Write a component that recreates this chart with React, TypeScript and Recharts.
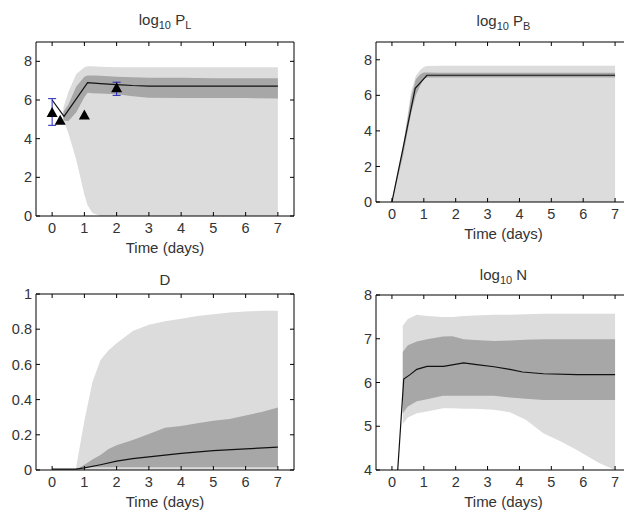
import React from "react";
import { Area, ComposedChart, ErrorBar, Line, Scatter, XAxis, YAxis } from "recharts";

const xTicks = [0, 1, 2, 3, 4, 5, 6, 7];
const xDomain = [-0.5, 7.5];

// log10 P_L
const plBandT = [0.35, 0.5, 0.75, 1.0, 1.1, 1.25, 1.5, 2, 2.5, 3, 4, 5, 6, 7];
const plLightLo = [4.95, 4.3, 2.9, 1.1, 0.55, 0.15, 0, 0, 0, 0, 0, 0, 0, 0];
const plLightHi = [5.6, 6.4, 7.35, 7.7, 7.75, 7.75, 7.72, 7.7, 7.7, 7.7, 7.7, 7.7, 7.7, 7.7];
const plDarkLo = [4.95, 4.9, 5.37, 6.14, 6.38, 6.35, 6.33, 6.3, 6.2, 6.12, 6.1, 6.1, 6.1, 6.08];
const plDarkHi = [5.4, 5.75, 6.7, 7.2, 7.27, 7.27, 7.25, 7.2, 7.18, 7.15, 7.15, 7.13, 7.13, 7.12];
const plMedT = [0, 0.37, 1.1, 1.5, 2, 2.5, 3, 4, 5, 6, 7];
const plMed = [6.0, 5.15, 6.9, 6.85, 6.8, 6.75, 6.72, 6.72, 6.72, 6.72, 6.72];
const plObsT = [0, 0.25, 1, 2];
const plObs = [5.35, 4.95, 5.22, 6.63];
const plObsLo = [4.69, null, null, 6.24];
const plObsHi = [6.07, null, null, 6.92];

// log10 P_B
const pbBandT = [0, 0.35, 0.6, 0.75, 0.9, 1.0, 1.1, 1.5, 2, 3, 4, 5, 6, 7];
const pbLightLo = [0, 0, 0, 0, 0, 0, 0, 0, 0, 0, 0, 0, 0, 0];
const pbLightHi = [0.2, 3.2, 6.2, 7.1, 7.45, 7.6, 7.65, 7.66, 7.66, 7.66, 7.66, 7.66, 7.66, 7.66];
const pbDarkLo = [0, 2.6, 5.0, 6.0, 6.6, 6.95, 7.0, 7.0, 7.0, 7.0, 7.0, 7.0, 7.0, 7.0];
const pbDarkHi = [0.1, 3.1, 5.9, 6.9, 7.2, 7.28, 7.28, 7.27, 7.27, 7.27, 7.27, 7.27, 7.27, 7.27];
const pbMedT = [0, 0.35, 0.73, 1.1, 7];
const pbMed = [0, 3.05, 6.39, 7.13, 7.13];

// D
const dBandT = [0.73, 1.0, 1.25, 1.5, 1.75, 2, 2.5, 3, 3.5, 4, 4.5, 5, 5.5, 6, 6.5, 7];
const dLightLo = [0, 0, 0, 0, 0, 0, 0, 0, 0, 0, 0, 0, 0, 0, 0, 0];
const dLightHi = [0, 0.28, 0.5, 0.625, 0.68, 0.72, 0.79, 0.825, 0.845, 0.86, 0.875, 0.885, 0.895, 0.9, 0.905, 0.905];
const dDarkLo = [0, 0.015, 0.015, 0.015, 0.015, 0.015, 0.015, 0.015, 0.015, 0.015, 0.015, 0.015, 0.015, 0.015, 0.015, 0.015];
const dDarkHi = [0, 0.03, 0.06, 0.085, 0.12, 0.14, 0.17, 0.205, 0.24, 0.25, 0.265, 0.28, 0.29, 0.31, 0.33, 0.355];
const dMedT = [0, 0.73, 1.0, 1.5, 2, 2.5, 3, 3.5, 4, 5, 6, 7];
const dMed = [0.005, 0.005, 0.012, 0.03, 0.05, 0.065, 0.075, 0.085, 0.095, 0.11, 0.12, 0.13];

// log10 N
const nBandT = [0.34, 0.5, 0.78, 1.1, 1.6, 1.9, 2.25, 2.6, 3.2, 3.7, 4.2, 4.75, 5.3, 5.8, 6.5, 7];
const nLightLo = [5.05, 5.2, 5.3, 5.34, 5.41, 5.41, 5.4, 5.4, 5.38, 5.32, 5.15, 4.84, 4.65, 4.46, 4.16, 4.0];
const nLightHi = [7.3, 7.45, 7.55, 7.52, 7.5, 7.5, 7.52, 7.53, 7.55, 7.55, 7.56, 7.57, 7.57, 7.57, 7.57, 7.57];
const nDarkLo = [5.3, 5.45, 5.57, 5.62, 5.7, 5.7, 5.7, 5.7, 5.7, 5.66, 5.63, 5.6, 5.6, 5.6, 5.6, 5.6];
const nDarkHi = [6.7, 6.85, 6.94, 6.99, 7.05, 7.06, 6.99, 6.97, 6.95, 6.96, 6.98, 6.99, 6.99, 6.99, 6.99, 6.99];
const nMedT = [0, 0.37, 0.57, 0.78, 1.1, 1.62, 2.25, 2.66, 3.2, 3.7, 4.1, 4.75, 5.8, 7];
const nMed = [2.0, 6.08, 6.18, 6.3, 6.37, 6.37, 6.45, 6.41, 6.36, 6.3, 6.24, 6.2, 6.18, 6.18];

const LIGHT = "#dcdcdc";
const DARK = "#a7a7a7";
const TEXT = "#333";
const Y_AXIS_W = 36;
const X_AXIS_H = 40;
const MT = 10; // room for the top tick label
const MR = 4;
const EDGE = 1; // size of the top / right frame axes

const bandRows = (t: number[], lo: number[], hi: number[]) =>
  t.map((x, i) => ({ t: x, band: [lo[i], hi[i]] }));
const lineRows = (t: number[], v: number[]) => t.map((x, i) => ({ t: x, v: v[i] }));

const obsRows = plObsT.map((x, i) => ({
  t: x,
  v: plObs[i],
  err: plObsLo[i] == null ? null : [plObs[i] - (plObsLo[i] as number), (plObsHi[i] as number) - plObs[i]],
}));
const obsWithErr = obsRows.filter((r) => r.err);

const tickStyle = { fill: TEXT, fontSize: 14.5 };
const blank = () => "";

const Triangle = (props: any) => {
  const { cx, cy } = props;
  return <polygon points={`${cx},${cy - 5.5} ${cx - 5.5},${cy + 4.5} ${cx + 5.5},${cy + 4.5}`} fill="#000" />;
};
const NoShape = () => <g />;

const Sub = ({ children }: { children: React.ReactNode }) => (
  <span style={{ fontSize: 11, position: "relative", top: 4 }}>{children}</span>
);

function Panel({ plotLeft, plotTop, plotW, plotH, yDomain, yTicks, title, titleTop, children }: any) {
  return (
    <>
      <div
        style={{
          position: "absolute",
          left: plotLeft,
          width: plotW,
          top: titleTop,
          textAlign: "center",
          fontSize: 15,
          lineHeight: "17px",
          color: TEXT,
          whiteSpace: "nowrap",
        }}
      >
        {title}
      </div>
      <div style={{ position: "absolute", left: plotLeft - Y_AXIS_W, top: plotTop - MT - EDGE }}>
        <ComposedChart
          width={Y_AXIS_W + plotW + EDGE + MR}
          height={MT + EDGE + plotH + X_AXIS_H + 2}
          margin={{ top: MT, right: MR, bottom: 2, left: 0 }}
        >
          <XAxis
            dataKey="t"
            type="number"
            domain={xDomain}
            ticks={xTicks}
            interval={0}
            allowDataOverflow
            tickSize={-4}
            tickMargin={11}
            height={X_AXIS_H}
            stroke="#000"
            tick={tickStyle}
            label={{ value: "Time (days)", position: "insideBottom", offset: 3, fill: TEXT, fontSize: 15 }}
          />
          <XAxis
            xAxisId="top"
            orientation="top"
            dataKey="t"
            type="number"
            domain={xDomain}
            ticks={xTicks}
            interval={0}
            allowDataOverflow
            tickSize={-4}
            height={EDGE}
            stroke="#000"
            tickFormatter={blank}
          />
          <YAxis
            type="number"
            domain={yDomain}
            ticks={yTicks}
            interval={0}
            allowDataOverflow
            tickSize={-4}
            tickMargin={8}
            width={Y_AXIS_W}
            stroke="#000"
            tick={tickStyle}
          />
          <YAxis
            yAxisId="right"
            orientation="right"
            type="number"
            domain={yDomain}
            ticks={yTicks}
            interval={0}
            allowDataOverflow
            tickSize={-4}
            width={EDGE}
            stroke="#000"
            tickFormatter={blank}
          />
          {children}
        </ComposedChart>
      </div>
    </>
  );
}

const band = (data: any[], fill: string) => (
  <Area
    data={data}
    dataKey="band"
    type="linear"
    stroke="none"
    fill={fill}
    fillOpacity={1}
    isAnimationActive={false}
  />
);
const median = (data: any[]) => (
  <Line data={data} dataKey="v" type="linear" stroke="#111" strokeWidth={1.2} dot={false} isAnimationActive={false} />
);

export default function App() {
  return (
    <div
      style={{
        position: "absolute",
        left: 0,
        top: 0,
        width: 624,
        height: 514,
        overflow: "hidden",
        background: "#fff",
        fontFamily: "'Liberation Sans', Arial, sans-serif",
      }}
    >
      <Panel
        plotLeft={36}
        plotTop={42}
        plotW={258}
        plotH={174}
        yDomain={[0, 9]}
        yTicks={[0, 2, 4, 6, 8]}
        titleTop={11}
        title={<>log<Sub>10</Sub> P<Sub>L</Sub></>}
      >
        {band(bandRows(plBandT, plLightLo, plLightHi), LIGHT)}
        {band(bandRows(plBandT, plDarkLo, plDarkHi), DARK)}
        {median(lineRows(plMedT, plMed))}
        <Scatter data={obsWithErr} dataKey="v" shape={NoShape} isAnimationActive={false}>
          <ErrorBar dataKey="err" direction="y" width={4} stroke="#2222bb" strokeWidth={1} />
        </Scatter>
        <Scatter data={obsRows} dataKey="v" shape={Triangle} isAnimationActive={false} />
      </Panel>
      <Panel
        plotLeft={376}
        plotTop={42}
        plotW={255}
        plotH={160}
        yDomain={[0, 9]}
        yTicks={[0, 2, 4, 6, 8]}
        titleTop={12}
        title={<>log<Sub>10</Sub> P<Sub>B</Sub></>}
      >
        {band(bandRows(pbBandT, pbLightLo, pbLightHi), LIGHT)}
        {band(bandRows(pbBandT, pbDarkLo, pbDarkHi), DARK)}
        {median(lineRows(pbMedT, pbMed))}
      </Panel>
      <Panel
        plotLeft={36}
        plotTop={294}
        plotW={258}
        plotH={176}
        yDomain={[0, 1]}
        yTicks={[0, 0.2, 0.4, 0.6, 0.8, 1]}
        titleTop={271}
        title={<>D</>}
      >
        {band(bandRows(dBandT, dLightLo, dLightHi), LIGHT)}
        {band(bandRows(dBandT, dDarkLo, dDarkHi), DARK)}
        {median(lineRows(dMedT, dMed))}
      </Panel>
      <Panel
        plotLeft={376}
        plotTop={295}
        plotW={255}
        plotH={175}
        yDomain={[4, 8]}
        yTicks={[4, 5, 6, 7, 8]}
        titleTop={266}
        title={<>log<Sub>10</Sub> N</>}
      >
        {band(bandRows(nBandT, nLightLo, nLightHi), LIGHT)}
        {band(bandRows(nBandT, nDarkLo, nDarkHi), DARK)}
        {median(lineRows(nMedT, nMed))}
      </Panel>
    </div>
  );
}
